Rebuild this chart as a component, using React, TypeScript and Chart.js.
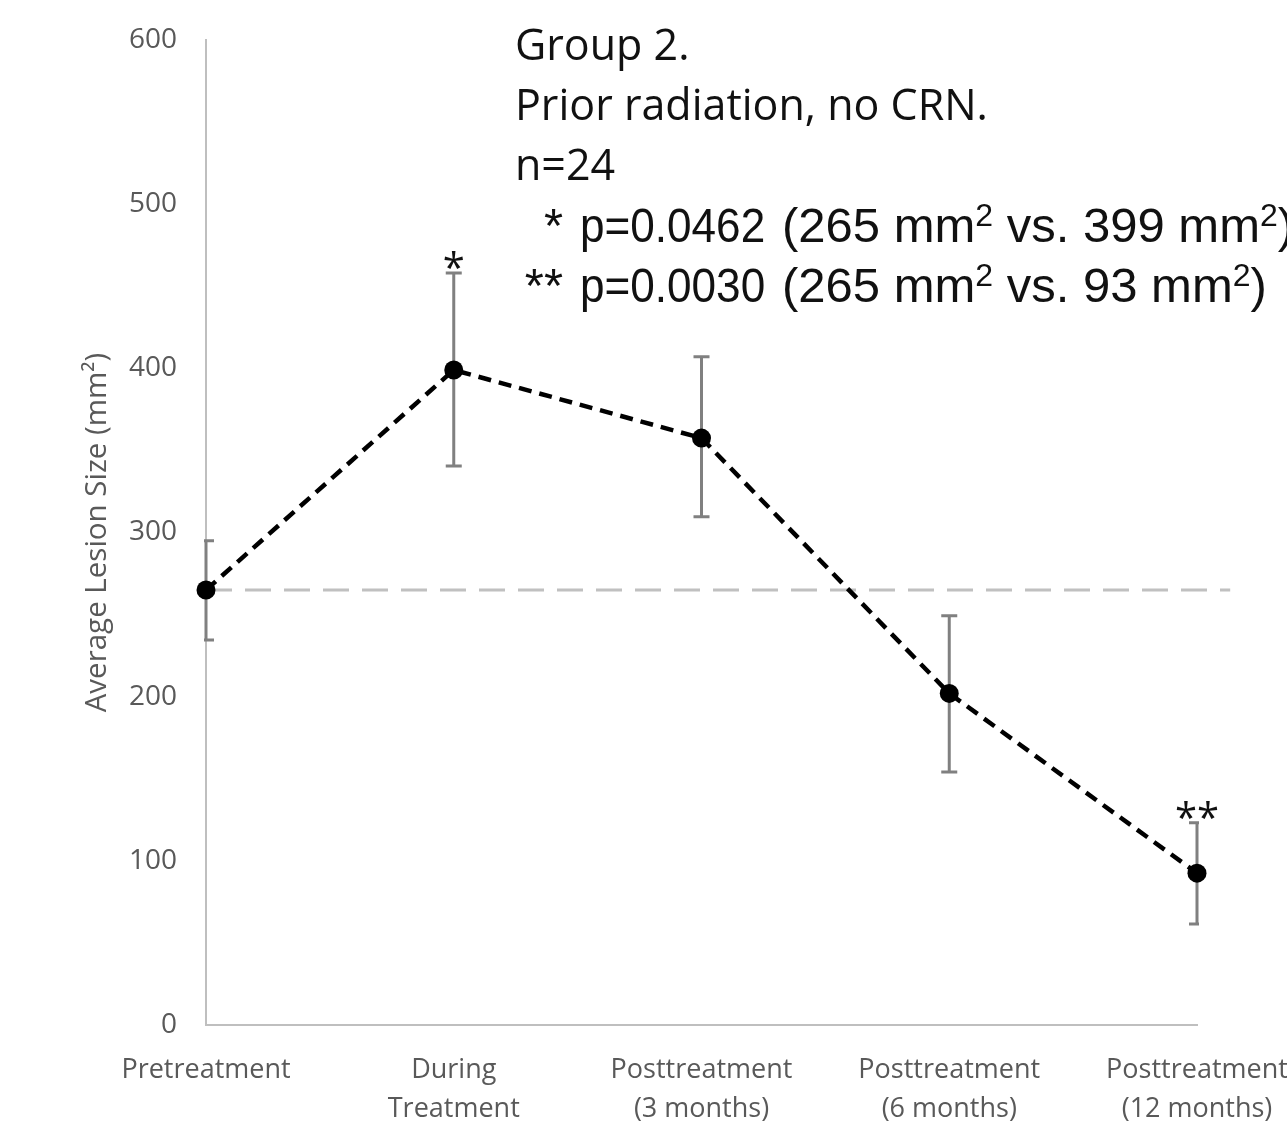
import React, { useEffect, useRef } from "react";
import { Chart, registerables } from "chart.js";

Chart.register(...registerables);

// ---- data ----
const categories: string[][] = [
  ["Pretreatment"],
  ["During", "Treatment"],
  ["Posttreatment", "(3 months)"],
  ["Posttreatment", "(6 months)"],
  ["Posttreatment", "(12 months)"],
];
const meanLesionSize: number[] = [265, 399, 357.5, 202, 92.5];
const errorUpper: number[] = [295, 458, 407, 249.3, 123.2];
const errorLower: number[] = [234.5, 340.5, 309.6, 154.1, 61.5];
const significanceMarks: string[] = ["", "*", "", "", "**"];
const yMin = 0;
const yMax = 600;
const yStep = 100;
const yTitle = "Average Lesion Size (mm²)";
const noteLines: string[] = ["Group 2.", "Prior radiation, no CRN.", "n=24"];
const pStars: string[] = ["*", "**"];
const pValues: string[] = ["p=0.0462", "p=0.0030"];
const pComparisons: string[] = ["(265 mm² vs. 399 mm²)", "(265 mm² vs. 93 mm²)"];

const GREY_TEXT = "#595959";

// draws text where "²" is rendered as a real superscript "2"
function drawWithSuperscript(ctx: CanvasRenderingContext2D, text: string, x: number, y: number, size: number, family: string) {
  const parts = text.split("²");
  let cx = x;
  parts.forEach((part, i) => {
    ctx.font = `${size}px ${family}`;
    ctx.fillText(part, cx, y);
    cx += ctx.measureText(part).width;
    if (i < parts.length - 1) {
      const sup = Math.round(size * 0.65);
      ctx.font = `${sup}px ${family}`;
      ctx.fillText("2", cx, y - size * 0.33);
      cx += ctx.measureText("2").width;
    }
  });
}

const overlayPlugin = {
  id: "overlay",
  beforeDatasetsDraw(chart: any) {
    const { ctx, chartArea } = chart;
    const x = chart.scales.x;
    const y = chart.scales.y;
    const step = x.getPixelForValue(1) - x.getPixelForValue(0);

    // baseline reference line at the pretreatment mean
    const yRef = y.getPixelForValue(meanLesionSize[0]);
    ctx.save();
    ctx.strokeStyle = "#c0c0c0";
    ctx.lineWidth = 3;
    ctx.setLineDash([26, 13]);
    ctx.beginPath();
    ctx.moveTo(chartArea.left, yRef);
    ctx.lineTo(chartArea.right + step * 0.134, yRef);
    ctx.stroke();
    ctx.restore();

    // error bars (clipped to plot area like the original)
    ctx.save();
    ctx.beginPath();
    ctx.rect(chartArea.left - 2, 0, chartArea.right - chartArea.left + 4, chart.height);
    ctx.clip();
    ctx.strokeStyle = "#808080";
    ctx.lineWidth = 3;
    const cap = 8;
    meanLesionSize.forEach((_, i) => {
      const px = x.getPixelForValue(i);
      const yt = y.getPixelForValue(errorUpper[i]);
      const yb = y.getPixelForValue(errorLower[i]);
      ctx.beginPath();
      ctx.moveTo(px, yt);
      ctx.lineTo(px, yb);
      ctx.moveTo(px - cap, yt);
      ctx.lineTo(px + cap, yt);
      ctx.moveTo(px - cap, yb);
      ctx.lineTo(px + cap, yb);
      ctx.stroke();
    });
    ctx.restore();
  },
  afterDatasetsDraw(chart: any) {
    const { ctx } = chart;
    const x = chart.scales.x;
    const y = chart.scales.y;

    // significance asterisks just above the error-bar caps
    ctx.save();
    ctx.fillStyle = "#111";
    ctx.font = "40px 'Open Sans'";
    ctx.textAlign = "center";
    ctx.textBaseline = "alphabetic";
    significanceMarks.forEach((m, i) => {
      if (!m) return;
      const px = x.getPixelForValue(i);
      const yt = y.getPixelForValue(errorUpper[i]);
      const mt = ctx.measureText(m);
      const baseline = yt - 4 - mt.actualBoundingBoxDescent;
      ctx.fillText(m, px, baseline);
    });
    ctx.restore();

    // annotation text block
    ctx.save();
    ctx.fillStyle = "#111";
    ctx.textAlign = "left";
    ctx.textBaseline = "alphabetic";
    ctx.font = "43px 'Open Sans'";
    noteLines.forEach((t, i) => ctx.fillText(t, 515, 60 + i * 60));

    pStars.forEach((s, i) => {
      const yb = 242 + i * 60;
      ctx.font = "49px 'Liberation Sans'";
      ctx.textAlign = "right";
      ctx.fillText(s, 563, yb);
      ctx.textAlign = "left";
      ctx.save();
      ctx.translate(580, yb);
      ctx.scale(0.9, 1);
      ctx.fillText(pValues[i], 0, 0);
      ctx.restore();
      drawWithSuperscript(ctx, pComparisons[i], 782, yb, 49, "'Liberation Sans'");
    });
    ctx.restore();
  },
};

export default function App() {
  const canvasRef = useRef<HTMLCanvasElement>(null);

  useEffect(() => {
    if (!canvasRef.current) return;
    const chart = new Chart(canvasRef.current, {
      type: "line",
      data: {
        labels: categories,
        datasets: [
          {
            data: meanLesionSize,
            borderColor: "#000",
            borderWidth: 4.5,
            borderDash: [13, 8],
            pointRadius: 9.5,
            pointHoverRadius: 9.5,
            pointBackgroundColor: "#000",
            pointBorderWidth: 0,
            tension: 0,
            fill: false,
            clip: false,
          } as any,
        ],
      },
      options: {
        animation: false,
        responsive: true,
        maintainAspectRatio: false,
        layout: { padding: { left: 0, right: 90, top: 40, bottom: 0 } },
        plugins: {
          legend: { display: false },
          tooltip: { enabled: false },
          title: { display: false },
        },
        scales: {
          x: {
            type: "category",
            offset: false,
            grid: { display: false, drawTicks: false },
            border: { display: true, color: "#bfbfbf", width: 2 },
            ticks: {
              color: GREY_TEXT,
              font: { family: "'Open Sans'", size: 27, lineHeight: 1.45 },
              padding: 26,
              maxRotation: 0,
              minRotation: 0,
              autoSkip: false,
            },
            afterFit: (s: any) => {
              s.height = 96;
              s.paddingLeft = 0;
              s.paddingRight = 0;
            },
          },
          y: {
            min: yMin,
            max: yMax,
            grid: { display: false, drawTicks: false },
            border: { display: true, color: "#bfbfbf", width: 2 },
            ticks: {
              stepSize: yStep,
              color: GREY_TEXT,
              font: { family: "'Open Sans'", size: 28 },
              padding: 29,
            },
            title: {
              display: true,
              text: yTitle,
              color: GREY_TEXT,
              font: { family: "'Open Sans'", size: 29.5, lineHeight: 1.2 },
              padding: { top: 80, bottom: 0 },
            },
            afterFit: (s: any) => {
              s.width = 206;
              s.paddingTop = 0;
              s.paddingBottom = 0;
            },
          },
        },
      },
      plugins: [overlayPlugin],
    });
    return () => chart.destroy();
  }, []);

  return (
    <div style={{ position: "absolute", left: 0, top: 0, width: 1287, height: 1121 }}>
      <canvas ref={canvasRef} />
    </div>
  );
}
